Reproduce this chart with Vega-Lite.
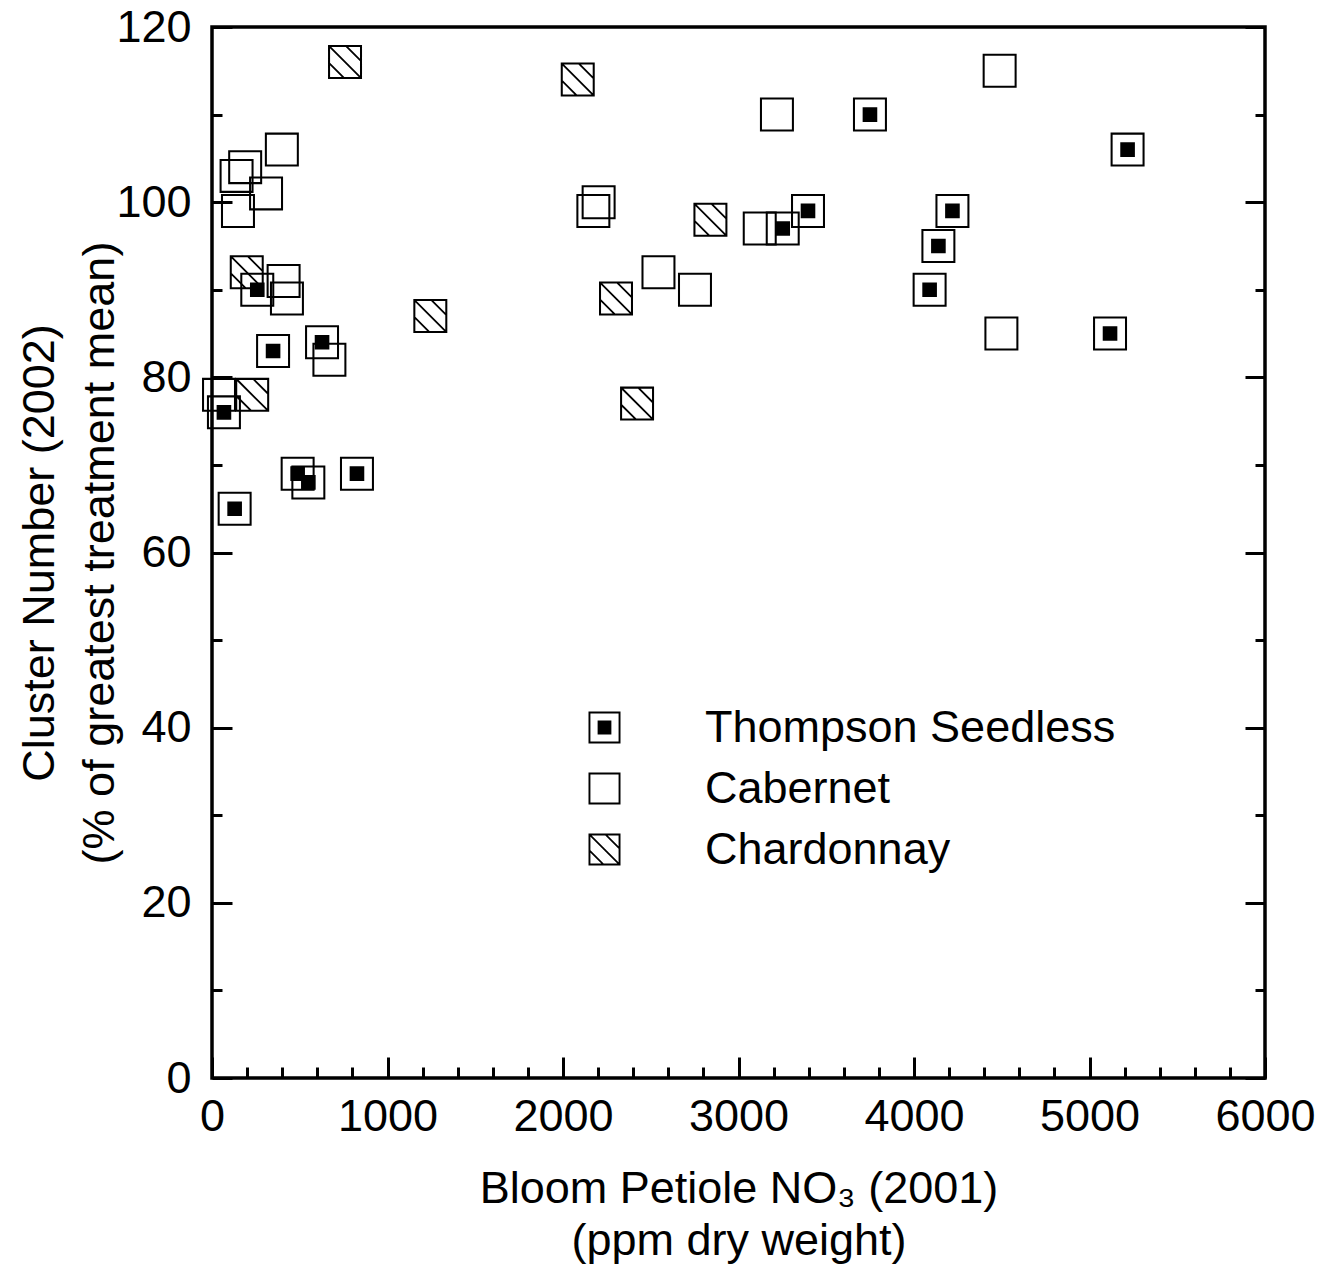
{
  "$schema": "https://vega.github.io/schema/vega-lite/v6.json",
  "autosize": {"type": "none"},
  "padding": {"left": 212, "top": 27, "right": 58, "bottom": 190},
  "width": 1053,
  "height": 1051,
  "background": "white",
  "config": {
    "font": "Liberation Sans",
    "view": {"stroke": "black", "strokeWidth": 3.5},
    "axis": {
      "domain": false,
      "grid": false,
      "labelFont": "Liberation Sans",
      "labelFontSize": 45,
      "labelColor": "black",
      "titleFont": "Liberation Sans",
      "titleFontSize": 45,
      "titleFontWeight": "normal",
      "titleColor": "black",
      "tickColor": "black",
      "tickWidth": 3
    }
  },
  "data": {
    "values": [
      {"x": 3749, "y": 110, "cultivar": "Thompson Seedless"},
      {"x": 5217, "y": 106, "cultivar": "Thompson Seedless"},
      {"x": 4219, "y": 99, "cultivar": "Thompson Seedless"},
      {"x": 3396, "y": 99, "cultivar": "Thompson Seedless"},
      {"x": 3252, "y": 97, "cultivar": "Thompson Seedless"},
      {"x": 4139, "y": 95, "cultivar": "Thompson Seedless"},
      {"x": 4089, "y": 90, "cultivar": "Thompson Seedless"},
      {"x": 5117, "y": 85, "cultivar": "Thompson Seedless"},
      {"x": 258, "y": 90, "cultivar": "Thompson Seedless"},
      {"x": 348, "y": 83, "cultivar": "Thompson Seedless"},
      {"x": 627, "y": 84, "cultivar": "Thompson Seedless"},
      {"x": 68, "y": 76, "cultivar": "Thompson Seedless"},
      {"x": 488, "y": 69, "cultivar": "Thompson Seedless"},
      {"x": 549, "y": 68, "cultivar": "Thompson Seedless"},
      {"x": 826, "y": 69, "cultivar": "Thompson Seedless"},
      {"x": 129, "y": 65, "cultivar": "Thompson Seedless"},
      {"x": 4488, "y": 115, "cultivar": "Cabernet"},
      {"x": 3219, "y": 110, "cultivar": "Cabernet"},
      {"x": 398, "y": 106, "cultivar": "Cabernet"},
      {"x": 189, "y": 104, "cultivar": "Cabernet"},
      {"x": 140, "y": 103, "cultivar": "Cabernet"},
      {"x": 308, "y": 101, "cultivar": "Cabernet"},
      {"x": 148, "y": 99, "cultivar": "Cabernet"},
      {"x": 2203, "y": 100, "cultivar": "Cabernet"},
      {"x": 2173, "y": 99, "cultivar": "Cabernet"},
      {"x": 3121, "y": 97, "cultivar": "Cabernet"},
      {"x": 2544, "y": 92, "cultivar": "Cabernet"},
      {"x": 2752, "y": 90, "cultivar": "Cabernet"},
      {"x": 408, "y": 91, "cultivar": "Cabernet"},
      {"x": 427, "y": 89, "cultivar": "Cabernet"},
      {"x": 669, "y": 82, "cultivar": "Cabernet"},
      {"x": 4498, "y": 85, "cultivar": "Cabernet"},
      {"x": 40, "y": 78, "cultivar": "Cabernet"},
      {"x": 758, "y": 116, "cultivar": "Chardonnay"},
      {"x": 2084, "y": 114, "cultivar": "Chardonnay"},
      {"x": 2840, "y": 98, "cultivar": "Chardonnay"},
      {"x": 198, "y": 92, "cultivar": "Chardonnay"},
      {"x": 1244, "y": 87, "cultivar": "Chardonnay"},
      {"x": 2302, "y": 89, "cultivar": "Chardonnay"},
      {"x": 229, "y": 78, "cultivar": "Chardonnay"},
      {"x": 2422, "y": 77, "cultivar": "Chardonnay"}
    ]
  },
  "encoding": {
    "x": {
      "field": "x",
      "type": "quantitative",
      "scale": {"domain": [0, 6000], "nice": false, "zero": false},
      "axis": {
        "orient": "bottom",
        "values": [0,200,400,600,800,1000,1200,1400,1600,1800,2000,2200,2400,2600,2800,3000,3200,3400,3600,3800,4000,4200,4400,4600,4800,5000,5200,5400,5600,5800,6000],
        "format": "d",
        "labelExpr": "datum.value % 1000 === 0 ? datum.label : ''",
        "tickSize": {"condition": {"test": "datum.value % 1000 === 0", "value": -21}, "value": -11},
        "labelPadding": 37,
        "labelOverlap": false,
        "labelFlush": false,
        "title": ["Bloom Petiole NO₃ (2001)", "(ppm dry weight)"],
        "titlePadding": 17,
        "titleLineHeight": 52
      }
    },
    "y": {
      "field": "y",
      "type": "quantitative",
      "scale": {"domain": [0, 120], "nice": false, "zero": false}
    }
  },
  "layer": [
    {
      "mark": {"type": "point", "opacity": 0},
      "encoding": {
        "y": {
          "field": "y",
          "type": "quantitative",
          "axis": {
            "orient": "left",
            "values": [0,10,20,30,40,50,60,70,80,90,100,110,120],
            "labelExpr": "datum.value % 20 === 0 ? datum.label : ''",
            "tickSize": {"condition": {"test": "datum.value % 20 === 0", "value": -20}, "value": -10},
            "labelPadding": 41,
            "labelOverlap": false,
            "labelFlush": false,
            "title": ["Cluster Number (2002)", "(% of greatest treatment mean)"],
            "titlePadding": -7,
            "titleLineHeight": 60
          }
        }
      }
    },
    {
      "mark": {"type": "point", "filled": true, "fill": "black", "strokeWidth": 0, "fillOpacity": 1, "opacity": 1, "size": 1156},
      "encoding": {
        "y": {
          "field": "y",
          "type": "quantitative",
          "axis": {
            "orient": "right",
            "values": [0,10,20,30,40,50,60,70,80,90,100,110,120],
            "labels": false,
            "tickSize": {"condition": {"test": "datum.value % 20 === 0", "value": -20}, "value": -10},
            "title": null
          }
        },
        "shape": {
          "field": "cultivar",
          "type": "nominal",
          "scale": {
            "domain": ["Thompson Seedless", "Cabernet", "Chardonnay"],
            "range": [
              "M-1,-1L1,-1L1,1L-1,1ZM-0.88,-0.88L-0.88,0.88L0.88,0.88L0.88,-0.88ZM-0.43,-0.43L0.43,-0.43L0.43,0.43L-0.43,0.43Z",
              "M-1,-1L1,-1L1,1L-1,1ZM-0.88,-0.88L-0.88,0.88L0.88,0.88L0.88,-0.88Z",
              "M-1,-1L1,-1L1,1L-1,1ZM-0.88,-0.88L-0.88,0.88L0.88,0.88L0.88,-0.88ZM-1,-1L-0.925,-1L1,0.925L1,1L0.925,1L-1,-0.925ZM-0.075,-1L0.075,-1L1,-0.075L1,0.075ZM-1,-0.075L0.075,1L-0.075,1L-1,0.075Z"
            ]
          },
          "legend": {
            "orient": "none",
            "legendX": 370,
            "legendY": 678,
            "title": null,
            "padding": 0,
            "symbolSize": 1024,
            "symbolStrokeWidth": 0,
            "symbolFillColor": "black",
            "symbolOpacity": 1,
            "labelFont": "Liberation Sans",
            "labelFontSize": 45,
            "labelColor": "black",
            "labelOffset": 78,
            "rowPadding": 15,
            "labelLimit": 0
          }
        }
      }
    }
  ],
  "resolve": {"axis": {"y": "independent"}}
}
